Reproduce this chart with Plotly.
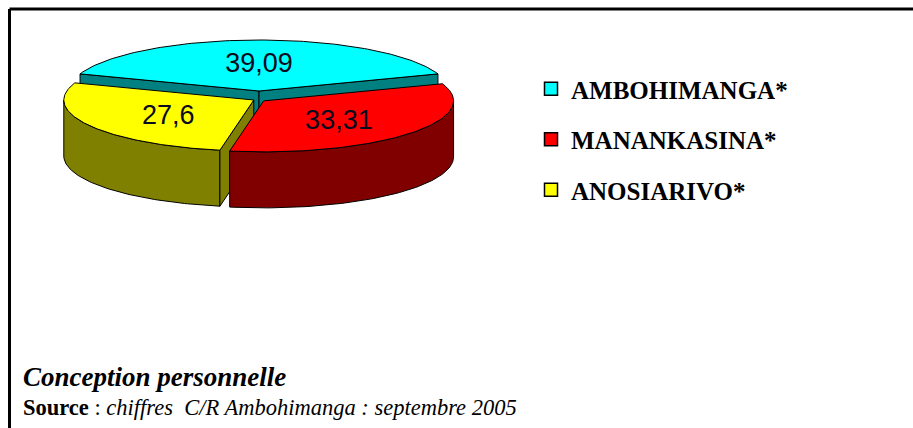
import numpy as np
import plotly.graph_objects as go

# ---- data ----
labels = ["AMBOHIMANGA*", "MANANKASINA*", "ANOSIARIVO*"]
values = [39.09, 33.31, 27.6]
value_text = ["39,09", "33,31", "27,6"]
top_colors = ["#00FFFF", "#FF0000", "#FFFF00"]
side_colors = ["#008080", "#800000", "#808000"]
note_title = "Conception personnelle"
note_source = "chiffres  C/R Ambohimanga : septembre 2005"

# ---- geometry (pixel space) ----
W, H = 913, 428
CX, CY = 259, 97
RX, RY = 190, 51
DEPTH = 56
EXPLODE = 6
LABEL_FX, LABEL_FY, LABEL_DY = 0.52, 0.56, 3

total = float(sum(values))
fr = [v / total for v in values]
start = 90 + fr[0] * 360 / 2  # first slice centred at the back

slices = []
cum = 0.0
for i, f in enumerate(fr):
    a_hi = start - cum * 360
    a_lo = start - (cum + f) * 360
    cum += f
    mid = np.radians((a_hi + a_lo) / 2)
    cx = CX + EXPLODE * np.cos(mid)
    cy = CY - EXPLODE * np.sin(mid)
    slices.append(dict(i=i, lo=a_lo, hi=a_hi, mid=mid, cx=cx, cy=cy))


def pts(cx, cy, angs, dz=0.0):
    r = np.radians(angs)
    return cx + RX * np.cos(r), cy - RY * np.sin(r) + dz


def poly(xs, ys, fill, name):
    return go.Scatter(x=list(xs) + [xs[0]], y=list(ys) + [ys[0]], mode="lines",
                      fill="toself", fillcolor=fill,
                      line=dict(color="black", width=1), hoverinfo="skip",
                      showlegend=False, name=name)


fig = go.Figure()

# back to front
order = sorted(slices, key=lambda s: -np.sin(s["mid"]))
for s in order:
    i = s["i"]
    cx, cy = s["cx"], s["cy"]
    side = side_colors[i]
    # outer wall (front-facing part)
    for k in range(-2, 3):
        f_lo, f_hi = k * 360 - 180, k * 360
        lo, hi = max(s["lo"], f_lo), min(s["hi"], f_hi)
        if hi - lo > 0.01:
            a = np.linspace(lo, hi, 80)
            xt, yt = pts(cx, cy, a)
            xb, yb = pts(cx, cy, a[::-1], DEPTH)
            fig.add_trace(poly(np.r_[xt, xb], np.r_[yt, yb], side, labels[i]))
    # radial walls
    for edge, normal in ((s["hi"], s["hi"] + 90), (s["lo"], s["lo"] - 90)):
        if np.sin(np.radians(normal)) < 0:
            ex, ey = pts(cx, cy, np.array([edge]))
            xs = [cx, ex[0], ex[0], cx]
            ys = [cy, ey[0], ey[0] + DEPTH, cy + DEPTH]
            fig.add_trace(poly(xs, ys, side, labels[i]))
    # top face
    a = np.linspace(s["lo"], s["hi"], 120)
    xt, yt = pts(cx, cy, a)
    fig.add_trace(poly(np.r_[cx, xt], np.r_[cy, yt], top_colors[i], labels[i]))

# value labels
lx = [s["cx"] + LABEL_FX * RX * np.cos(s["mid"]) for s in slices]
ly = [s["cy"] - LABEL_FY * RY * np.sin(s["mid"]) + LABEL_DY for s in slices]
fig.add_trace(go.Scatter(x=lx, y=ly, mode="text", text=value_text,
                         textfont=dict(family="Liberation Sans", size=27, color="#0a0a20"),
                         hoverinfo="skip", showlegend=False))

# legend entries
for lab, col in zip(labels, top_colors):
    fig.add_trace(go.Scatter(x=[None], y=[None], mode="markers", name=lab, legendgroup=lab,
                             marker=dict(symbol="square", size=13, color=col,
                                         line=dict(color="black", width=1.5))))

fig.update_layout(
    width=W, height=H,
    margin=dict(l=0, r=0, t=0, b=0),
    paper_bgcolor="white", plot_bgcolor="white",
    xaxis=dict(range=[0, W], visible=False, fixedrange=True, domain=[0, 1]),
    yaxis=dict(range=[H, 0], visible=False, fixedrange=True, domain=[0, 1]),
    showlegend=True,
    legend=dict(x=531 / W, y=1 - 66 / H, xanchor="left", yanchor="top",
                font=dict(family="Liberation Serif", size=25, color="black", weight="bold"),
                tracegroupgap=15, bgcolor="rgba(0,0,0,0)", itemsizing="trace"),
    shapes=[
        dict(type="line", xref="paper", yref="paper", x0=9.5 / W, x1=1.0, y0=1 - 9 / H, y1=1 - 9 / H,
             line=dict(color="black", width=3)),
        dict(type="line", xref="paper", yref="paper", x0=9.5 / W, x1=9.5 / W, y0=1 - 9 / H, y1=0,
             line=dict(color="black", width=3)),
    ],
    annotations=[
        dict(x=21, y=377, xref="x", yref="y", xanchor="left", yanchor="middle", showarrow=False,
             text="<b><i>" + note_title + "</i></b>",
             font=dict(family="Liberation Serif", size=27, color="black")),
        dict(x=21, y=407, xref="x", yref="y", xanchor="left", yanchor="middle", showarrow=False,
             text="<b>Source</b> : <i>" + note_source + "</i>",
             font=dict(family="Liberation Serif", size=22.5, color="black")),
    ],
)

fig.write_html("out.html", config={"displayModeBar": False},
               post_script="document.body.style.margin='0';document.body.style.overflow='hidden';")
